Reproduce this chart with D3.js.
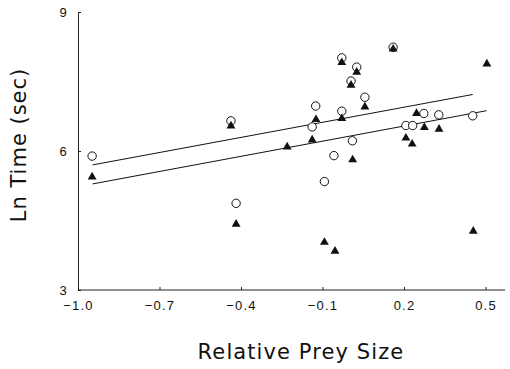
<!DOCTYPE html>
<html>
<head>
<meta charset="utf-8">
<style>
  body { margin: 0; background: white; }
  .tick text { font-family: "Liberation Sans", Arial, sans-serif; font-size: 13px; letter-spacing: 1.2px; fill: #111; }
  .title { font-family: "DejaVu Sans", sans-serif; font-size: 21px; fill: #111; }
</style>
<script src="https://cdn.jsdelivr.net/npm/d3@7"></script>
</head>
<body>
<svg id="chart"></svg>
<script>
// open circles
let circleX = [-0.948, -0.437, -0.418, -0.138, -0.125, -0.093, -0.058, -0.029, -0.029, 0.005, 0.010, 0.026, 0.056, 0.160, 0.207, 0.232, 0.273, 0.328, 0.453]
let circleY = [5.89, 6.65, 4.87, 6.52, 6.97, 5.34, 5.90, 8.01, 6.86, 7.51, 6.22, 7.81, 7.16, 8.24, 6.55, 6.55, 6.81, 6.78, 6.76]
// filled triangles
let triX = [-0.948, -0.437, -0.418, -0.230, -0.138, -0.124, -0.093, -0.054, -0.029, -0.029, 0.005, 0.011, 0.026, 0.056, 0.160, 0.207, 0.230, 0.246, 0.275, 0.329, 0.455, 0.505]
let triY = [5.44, 6.54, 4.42, 6.09, 6.24, 6.68, 4.03, 3.84, 7.91, 6.70, 7.42, 5.81, 7.70, 6.95, 8.20, 6.28, 6.15, 6.81, 6.51, 6.47, 4.27, 7.88]
// fitted lines (end points)
let upperLineX = [-0.946, 0.453]
let upperLineY = [5.70, 7.22]
let lowerLineX = [-0.946, 0.504]
let lowerLineY = [5.29, 6.87]
let xTicks = [-1.0, -0.7, -0.4, -0.1, 0.2, 0.5]
let yTicks = [3, 6, 9]

let width = 510, height = 369
let svg = d3.select("#chart").attr("width", width).attr("height", height)

let x = d3.scaleLinear().domain([-1, 0.5]).range([78, 485.5])
let y = d3.scaleLinear().domain([3, 9]).range([290, 12])

let fmt = d => d3.format(".1f")(d).replace("-", "\u2212")

let xAxis = svg.append("g")
    .attr("transform", "translate(0,290)")
    .call(d3.axisBottom(x).tickValues(xTicks).tickFormat(fmt).tickSizeInner(-3).tickSizeOuter(0).tickPadding(11))
xAxis.select(".domain").attr("d", "M78,0H505")

let yAxis = svg.append("g")
    .attr("transform", "translate(78,0)")
    .call(d3.axisLeft(y).tickValues(yTicks).tickFormat(d3.format("d")).tickSizeInner(-3).tickSizeOuter(0).tickPadding(10))

svg.selectAll(".domain").attr("stroke", "#222")
svg.selectAll(".tick line").attr("stroke", "#222")

// regression lines
let line = d3.line().x(d => x(d[0])).y(d => y(d[1]))
svg.append("path").datum(d3.zip(upperLineX, upperLineY))
    .attr("d", line).attr("fill", "none").attr("stroke", "#111").attr("stroke-width", 1)
svg.append("path").datum(d3.zip(lowerLineX, lowerLineY))
    .attr("d", line).attr("fill", "none").attr("stroke", "#111").attr("stroke-width", 1)

// circles
svg.append("g").selectAll("circle").data(d3.zip(circleX, circleY))
    .enter().append("circle")
    .attr("cx", d => x(d[0]))
    .attr("cy", d => y(d[1]))
    .attr("r", 4.2)
    .attr("fill", "white")
    .attr("stroke", "#111")
    .attr("stroke-width", 1)

// triangles
let tri = d3.symbol().type(d3.symbolTriangle).size(34)
svg.append("g").selectAll("path").data(d3.zip(triX, triY))
    .enter().append("path")
    .attr("d", tri)
    .attr("transform", d => `translate(${x(d[0])},${y(d[1])})`)
    .attr("fill", "#111")

// titles
svg.append("text").attr("class", "title")
    .attr("x", 301).attr("y", 359)
    .attr("text-anchor", "middle")
    .style("letter-spacing", "1.1px")
    .text("Relative Prey Size")

svg.append("text").attr("class", "title")
    .attr("transform", "translate(26,145) rotate(-90)")
    .attr("text-anchor", "middle")
    .style("letter-spacing", "1px")
    .text("Ln Time (sec)")
</script>
</body>
</html>
